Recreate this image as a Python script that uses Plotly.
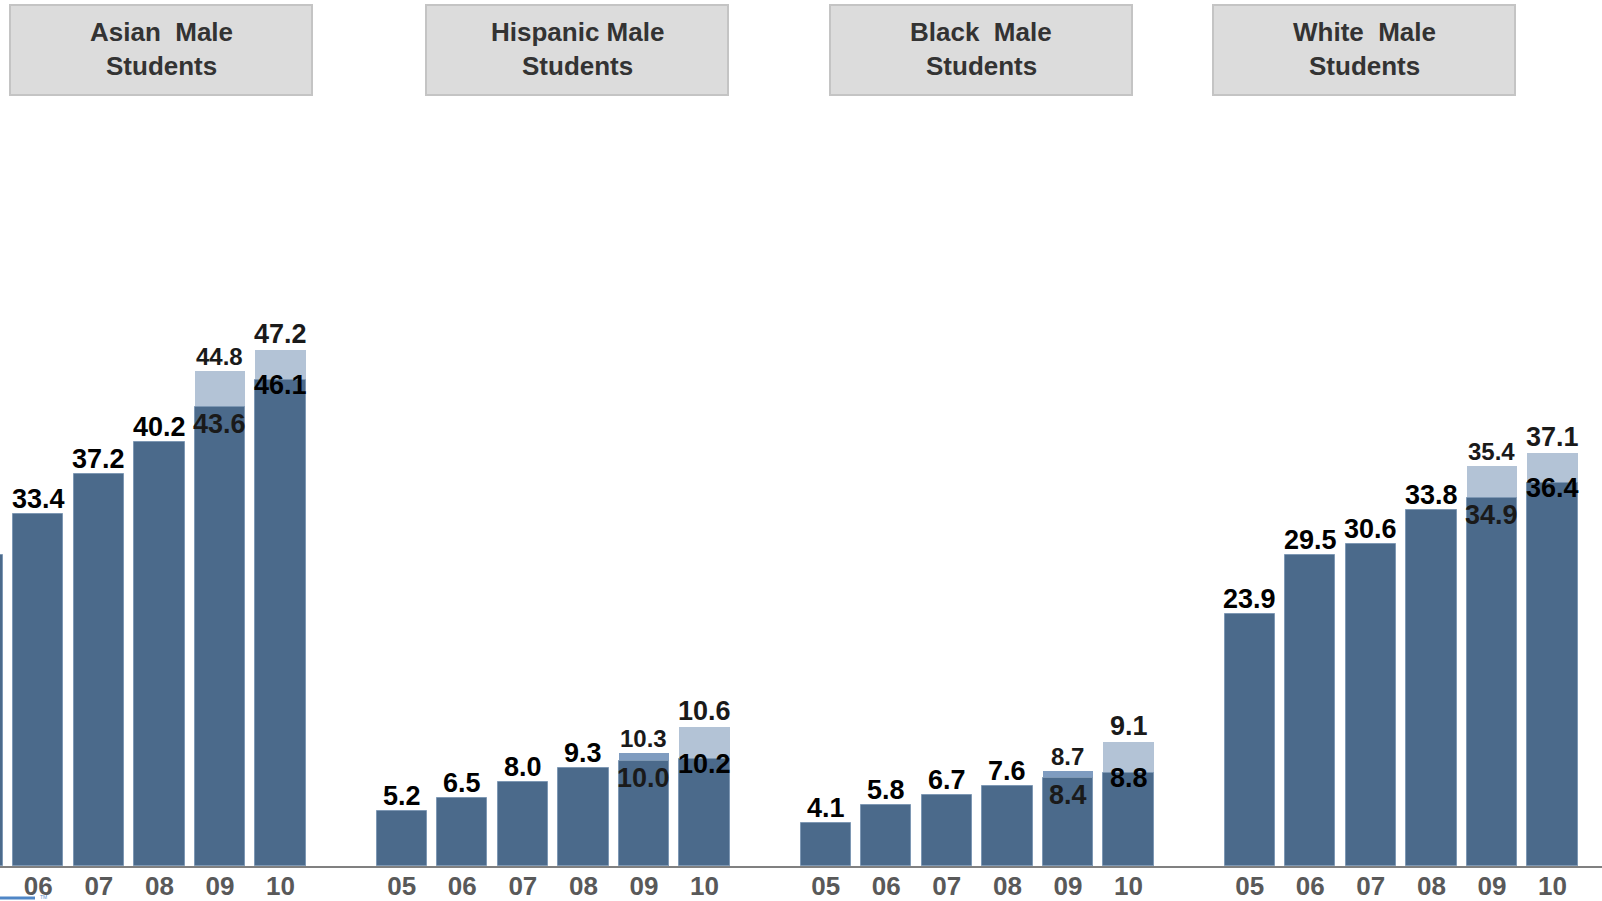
import plotly.graph_objects as go

group_line1 = ["Asian  Male", "Hispanic Male", "Black  Male", "White  Male"]
group_line2 = ["Students", "Students", "Students", "Students"]
years = ["05", "06", "07", "08", "09", "10"]

# main (dark) bars, one value per year 05..10
asian = [29.5, 33.4, 37.2, 40.2, 43.6, 46.1]
hispanic = [5.2, 6.5, 8.0, 9.3, 10.0, 10.2]
black = [4.1, 5.8, 6.7, 7.6, 8.4, 8.8]
white = [23.9, 29.5, 30.6, 33.8, 34.9, 36.4]

# lighter bars behind 09 and 10: printed label and drawn height
asian_top = [44.8, 47.2]
hispanic_top = [10.3, 10.6]
black_top = [8.7, 9.1]
white_top = [35.4, 37.1]
asian_top_h = [47.0, 49.0]
hispanic_top_h = [10.7, 13.2]
black_top_h = [9.0, 11.8]
white_top_h = [38.0, 39.2]

DARK = "#4b6a8b"
LIGHT = "#b3c3d6"
MID = "#7f9cc0"
FONT = "Liberation Sans, Arial, sans-serif"

series = [asian, hispanic, black, white]
tops = [asian_top, hispanic_top, black_top, white_top]
tops_h = [asian_top_h, hispanic_top_h, black_top_h, white_top_h]

# one empty slot between groups
x_pos, y_val, tick_text = [], [], []
for g, vals in enumerate(series):
    for i, v in enumerate(vals):
        x_pos.append(g * 7 + i)
        y_val.append(v)
        tick_text.append(years[i])

lx, ly, lcol, ltxt = [], [], [], []
for g in range(len(series)):
    for k in range(2):
        lx.append(g * 7 + 4 + k)
        ly.append(tops_h[g][k])
        ltxt.append(f"{tops[g][k]:.1f}")
        # the 09 bar of Hispanic and Black is a stronger blue
        lcol.append(MID if (k == 0 and g in (1, 2)) else LIGHT)

fig = go.Figure()
fig.add_trace(go.Bar(x=lx, y=ly, width=0.83, marker=dict(color=lcol, line=dict(width=0)),
                     showlegend=False, hoverinfo="skip"))
fig.add_trace(go.Bar(x=x_pos, y=y_val, width=0.83,
                     marker=dict(color=DARK, line=dict(color="#7e98b4", width=1)),
                     showlegend=False))


def bold(size, color="#000000", family=FONT):
    return dict(family=family, size=size, color=color, weight="bold")


annotations = []
for x, v, t in zip(x_pos, y_val, tick_text):
    lab = dict(x=x, y=v, text=f"{v:.1f}", showarrow=False, xanchor="center", font=bold(27))
    if t == "09":
        lab.update(yanchor="top", yshift=0, font=bold(27, "#1a1a1a"))
    elif t == "10":
        lab.update(yanchor="top", yshift=12)
    else:
        lab.update(yanchor="bottom", yshift=-2)
    annotations.append(lab)

for x, h, t in zip(lx, ly, ltxt):
    small = (x % 7) == 4
    annotations.append(dict(x=x, y=h, text=t, showarrow=False, xanchor="center",
                            yanchor="bottom", yshift=-1,
                            font=bold(24 if small else 27, "#1a1a1a")))

# group header boxes
box_x = [(10, 312), (426, 728), (830, 1132), (1213, 1515)]
shapes = []
for (x0, x1), l1, l2 in zip(box_x, group_line1, group_line2):
    shapes.append(dict(type="rect", xref="paper", yref="paper", x0=x0 / 1602, x1=x1 / 1602,
                       y0=(866 - 95) / 866, y1=(866 - 5) / 866,
                       fillcolor="#dcdcdc", line=dict(color="#c4c4c4", width=2)))
    cx = (x0 + x1) / 2 / 1602
    for txt, py in ((l1, 32), (l2, 66)):
        annotations.append(dict(xref="paper", yref="paper", x=cx, y=(866 - py) / 866,
                                xanchor="center", yanchor="middle", text=txt, showarrow=False,
                                font=bold(26, "#333333")))

annotations.append(dict(xref="paper", yref="paper", x=38 / 1602, y=(866 - 897) / 866,
                        text="TM", showarrow=False, xanchor="left", yanchor="middle",
                        font=dict(family=FONT, size=5, color="#5b8fd0")))
shapes.append(dict(type="line", xref="paper", yref="paper", x0=0, x1=35 / 1602,
                   y0=(866 - 898) / 866, y1=(866 - 898) / 866,
                   line=dict(color="#4f86c6", width=3)))

fig.update_layout(
    width=1602, height=901,
    margin=dict(l=0, r=0, t=0, b=35),
    paper_bgcolor="white", plot_bgcolor="white",
    barmode="overlay", bargap=0,
    annotations=annotations,
    shapes=shapes,
    xaxis=dict(range=[0.368, 26.817], tickvals=x_pos, ticktext=tick_text, automargin=False,
               showgrid=False, zeroline=False, showline=True, linecolor="#808080", linewidth=2,
               ticks="", ticklabelstandoff=-4, tickfont=bold(26, "#595959")),
    yaxis=dict(range=[0, 82.2], visible=False, showgrid=False, zeroline=False, automargin=False),
)

fig.write_html("out.html", config={"displayModeBar": False},
               post_script="document.body.style.margin='0';")
